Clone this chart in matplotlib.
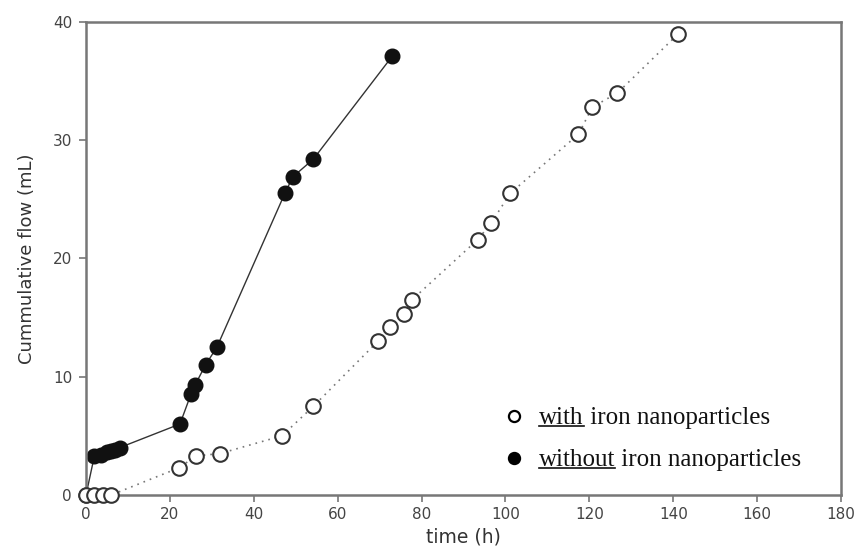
import matplotlib
matplotlib.use("Agg")
import matplotlib.pyplot as plt

# open circles: with iron nanoparticles
t_with = [0, 2, 4, 6, 22.2, 26.2, 31.9, 46.7, 54.2, 69.6, 72.5, 75.7, 77.7,
          93.4, 96.6, 101.1, 117.4, 120.7, 126.7, 141.2]
flow_with = [0, 0, 0, 0, 2.3, 3.3, 3.5, 5.0, 7.5, 13.0, 14.2, 15.3, 16.5,
             21.6, 23.0, 25.5, 30.5, 32.8, 34.0, 39.0]

# filled circles: without iron nanoparticles
t_without = [0, 2, 3.5, 5, 6, 7, 8, 22.4, 25, 26, 28.5, 31.2, 47.4, 49.3, 54.2, 73.0]
flow_without = [0, 3.3, 3.4, 3.6, 3.7, 3.8, 4.0, 6.0, 8.5, 9.3, 11.0, 12.5,
                25.5, 26.9, 28.4, 37.1]

xticks = [0, 20, 40, 60, 80, 100, 120, 140, 160, 180]
yticks = [0, 10, 20, 30, 40]

fig = plt.figure(figsize=(8.6, 5.49), dpi=100)
ax = fig.add_axes([0.1, 0.0984, 0.878, 0.8616])

ax.plot(t_with, flow_with, linestyle=(0, (1, 3)), color="#777777", lw=1.2,
        marker="o", ms=10.5, mfc="white", mec="#333333", mew=1.5, zorder=3,
        clip_on=False)
ax.plot(t_without, flow_without, linestyle="-", color="#333333", lw=1.0,
        marker="o", ms=10.5, mfc="#111111", mec="#111111", zorder=2,
        clip_on=False)

ax.set_xlim(0, 180)
ax.set_ylim(0, 40)
ax.set_xticks(xticks)
ax.set_yticks(yticks)
ax.tick_params(direction="out", length=5, width=1.2, color="#777777",
               labelsize=11, labelcolor="#444444", top=False, right=False)
ax.tick_params(axis="y", pad=5)
for s in ax.spines.values():
    s.set_color("#777777")
    s.set_linewidth(1.8)

ax.set_xlabel("time (h)", fontsize=13.5, color="#333333", labelpad=4)
ax.set_ylabel("Cummulative flow (mL)", fontsize=13, color="#333333", labelpad=12)

# legend drawn by hand so the first word can be underlined
legend_rows = [("with", " iron nanoparticles", "white", 418),
               ("without", " iron nanoparticles", "black", 460)]
fig.canvas.draw()
renderer = fig.canvas.get_renderer()
for word, rest, face, ypix in legend_rows:
    yfig = 1 - ypix / 549
    ax.plot([514 / 860], [yfig + 0.004], transform=fig.transFigure, marker="o",
            ms=8, mfc=face, mec="black", mew=1.6, clip_on=False)
    t1 = fig.text(539 / 860, yfig, word, family="Liberation Serif", fontsize=18,
                  va="center", ha="left", color="#111111")
    bb = t1.get_window_extent(renderer)
    x1 = bb.x1 / 860
    fig.text(x1, yfig, rest, family="Liberation Serif", fontsize=18,
             va="center", ha="left", color="#111111")
    uy = (bb.y0 + 3) / 549
    fig.add_artist(plt.Line2D([bb.x0 / 860, x1], [uy, uy], color="#111111", lw=1.2))

fig.savefig("out.png", dpi=100)
